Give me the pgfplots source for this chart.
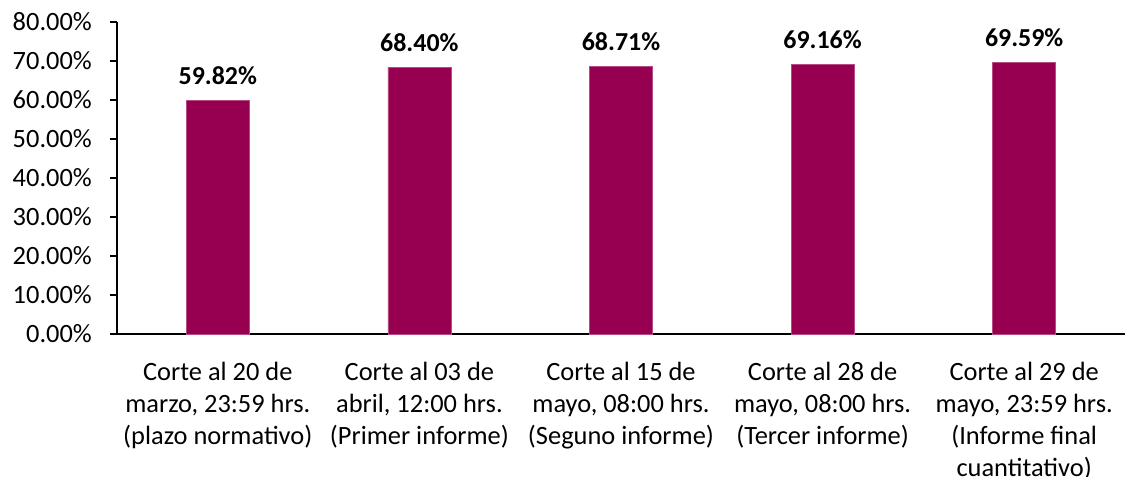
\documentclass[border=0pt]{standalone}
\usepackage{pgfplots}
\pgfplotsset{compat=1.18}
\usepackage{fontspec}
\setmainfont{Carlito}
\definecolor{barc}{HTML}{970050}
\begin{document}
\begin{tikzpicture}
\begin{axis}[
  scale only axis,
  width=1008bp, height=312bp,
  at={(0,0)}, anchor=south west,
  xmin=-0.5, xmax=4.5,
  ymin=0, ymax=80,
  axis x line=bottom, axis y line=left,
  axis line style={-, black, line width=1.2bp},
  ytick={0,10,...,80},
  xtick={0,1,2,3,4},
  xticklabels={{Corte al 20 de\\marzo, 23:59 hrs.\\(plazo normativo)},
               {Corte al 03 de\\abril, 12:00 hrs.\\(Primer informe)},
               {Corte al 15 de\\mayo, 08:00 hrs.\\(Seguno informe)},
               {Corte al 28 de\\mayo, 08:00 hrs.\\(Tercer informe)},
               {Corte al 29 de\\mayo, 23:59 hrs.\\(Informe final\\cuantitativo)}},
  xticklabel style={align=center, anchor=north, font=\fontsize{26.5}{32}\selectfont, yshift=-18bp},
  major x tick style={draw=none},
  tick align=outside,
  major tick length=7bp,
  major y tick style={black, line width=1.2bp},
  yticklabel={\pgfmathprintnumber[fixed,fixed zerofill,precision=2,assume math mode=true]{\tick}\%},
  yticklabel style={font=\fontsize{26.5}{32}\selectfont, inner sep=0pt, xshift=-18bp},
  ymajorgrids=false,
  clip=false,
]
\addplot[ybar, bar width=63bp, fill=barc, draw=barc!70!white, line width=0.6bp,
  nodes near coords={\pgfmathprintnumber[fixed,fixed zerofill,precision=2,assume math mode=true]{\pgfplotspointmeta}\%},
  every node near coord/.append style={font=\fontsize{26}{32}\selectfont\bfseries, black, anchor=south, yshift=12bp}]
  coordinates {(0,59.82) (1,68.40) (2,68.71) (3,69.16) (4,69.59)};
\end{axis}
\pgfresetboundingbox
\path (-117bp,-143bp) rectangle (1008bp,334bp);
\end{tikzpicture}
\end{document}
